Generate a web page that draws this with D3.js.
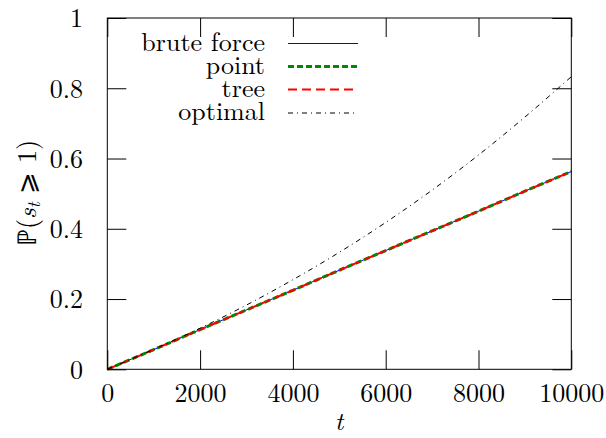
<!DOCTYPE html>
<html><head><meta charset="utf-8">
<script src="https://cdn.jsdelivr.net/npm/d3@7"></script>
</head><body style="margin:0;background:#fff"><svg id="c" width="606" height="438" style="display:block"></svg>
<script>
const tValues = [0,1000,2000,3000,4000,5000,6000,7000,8000,9000,10000];
const bruteForce = [0,0.056,0.113,0.169,0.225,0.282,0.338,0.394,0.450,0.507,0.563];
const pointVals  = [0,0.056,0.113,0.169,0.225,0.282,0.338,0.394,0.450,0.507,0.563];
const treeVals   = [0,0.056,0.113,0.169,0.225,0.282,0.338,0.394,0.450,0.507,0.563];
const optimalVals= [0,0.057,0.117,0.183,0.255,0.333,0.418,0.510,0.610,0.718,0.833];
const xTicks = [0,2000,4000,6000,8000,10000];
const yTicks = [0,0.2,0.4,0.6,0.8,1];
const seriesNames = ["brute force","point","tree","optimal"];

const FONT = '"Latin Modern Roman"';
const FS = "26px";
const svg = d3.select("#c");
const L=107.3,R=571.3,T=18,B=369.3;
const x = d3.scaleLinear().domain([0,10000]).range([L,R]);
const y = d3.scaleLinear().domain([0,1]).range([B,T]);
const tk = 19;

const styles = [
  {color:"#0000ff", w:1, dash:null},
  {color:"#008800", w:3, dash:"6,3"},
  {color:"#ff0000", w:2, dash:"9,5"},
  {color:"#000000", w:1, dash:"5,4,1,4"}
];
const data = [bruteForce,pointVals,treeVals,optimalVals];

const fmtY = d => d===0?"0":(d===1?"1":d3.format(".1f")(d));
const gB = svg.append("g").attr("transform",`translate(0,${B})`)
  .call(d3.axisBottom(x).tickValues(xTicks).tickSize(-tk).tickPadding(tk+10).tickFormat(d3.format("d")));
const gT = svg.append("g").attr("transform",`translate(0,${T})`)
  .call(d3.axisTop(x).tickValues(xTicks).tickSize(-tk).tickFormat(""));
const gL = svg.append("g").attr("transform",`translate(${L},0)`)
  .call(d3.axisLeft(y).tickValues(yTicks).tickSize(-tk).tickFormat(fmtY));
const gR = svg.append("g").attr("transform",`translate(${R},0)`)
  .call(d3.axisRight(y).tickValues(yTicks).tickSize(-tk).tickFormat(""));
[gB,gT,gL,gR].forEach(g=>{
  g.attr("font-family",null).attr("font-size",null);
  g.select(".domain").remove();
  g.selectAll(".tick line").attr("stroke","#000").attr("stroke-width",1);
  g.selectAll("text").style("font-family",FONT).style("font-size",FS).attr("fill","#000");
});
gB.selectAll(".tick text").attr("dy","0.15em");
gL.selectAll(".tick text").attr("text-anchor","end").attr("x",83-L).attr("dy","0.34em");

const line = d3.line().curve(d3.curveMonotoneX);
data.forEach((vals,i)=>{
  const s=styles[i];
  svg.append("path")
    .attr("d", line(vals.map((v,j)=>[x(tValues[j]),y(v)])))
    .attr("fill","none").attr("stroke",s.color).attr("stroke-width",s.w)
    .attr("stroke-dasharray",s.dash);
});

svg.append("rect").attr("x",L).attr("y",T).attr("width",R-L).attr("height",B-T)
  .attr("fill","none").attr("stroke","#000").attr("stroke-width",1);

const legY=[43.5,66.5,89.5,113];
seriesNames.forEach((n,i)=>{
  const s=styles[i];
  svg.append("text").attr("x",265).attr("y",legY[i]+7).attr("text-anchor","end")
    .style("font-family",FONT).style("font-size",FS).text(n);
  svg.append("line").attr("x1",288).attr("x2",358).attr("y1",legY[i]).attr("y2",legY[i])
    .attr("stroke",s.color).attr("stroke-width",s.w).attr("stroke-dasharray",s.dash);
});

svg.append("text").attr("x",339).attr("y",430).attr("text-anchor","middle")
  .style("font-family",FONT).style("font-size",FS).style("font-style","italic").text("t");
const yl = svg.append("text").attr("transform","translate(36,193) rotate(-90)")
  .attr("text-anchor","middle").style("font-family",FONT).style("font-size",FS);
yl.append("tspan").text("ℙ(");
yl.append("tspan").style("font-style","italic").text("s");
yl.append("tspan").style("font-style","italic").style("font-size","18px").attr("dy",4).text("t");
yl.append("tspan").attr("dy",-4).text(" ⩾ 1)");
</script></body></html>
